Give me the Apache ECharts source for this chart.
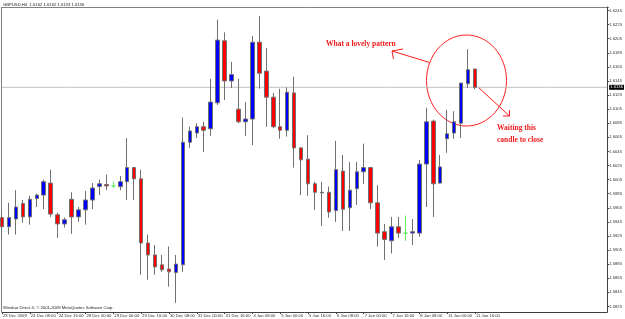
<!DOCTYPE html>
<html><head><meta charset="utf-8">
<script src="https://cdn.jsdelivr.net/npm/echarts@6/dist/echarts.min.js"></script>
<style>html,body{margin:0;padding:0;background:#fff}#c{width:625px;height:319px}</style>
</head><body><div id="c"></div>
<script>
const symbolName = 'GBPUSD,H4';
const footerText = 'Windsor Direct 4, \u00a9 2001-2009 MetaQuotes Software Corp.';
const timeLabels = ['23 Dec 2009','24 Dec 08:00','24 Dec 16:00','28 Dec 00:00','29 Dec 00:00','29 Dec 16:00','30 Dec 08:00','31 Dec 00:00','31 Dec 16:00','4 Jan 08:00','5 Jan 00:00','5 Jan 16:00','6 Jan 08:00','7 Jan 00:00','7 Jan 16:00','8 Jan 08:00','11 Jan 00:00','11 Jan 16:00'];
const open  = [1.5951,1.5938,1.5949,1.5971,1.5952,1.5978,1.5983,1.6000,1.5955,1.5942,
               1.5977,1.5952,1.5962,1.5976,1.5995,1.5998,1.5996,1.5995,1.6002,1.6022,
               1.6006,1.5915,1.5898,1.5884,1.5878,1.5873,1.5884,1.6058,1.6071,1.6080,
               1.6077,1.6114,1.6202,1.6145,1.6105,1.6087,1.6091,1.6200,1.6159,1.6122,
               1.6080,1.6075,1.6128,1.6050,1.6034,1.5999,1.5987,1.5987,1.5961,1.6017,
               1.5965,1.5992,1.6016,1.6022,1.5972,1.5931,1.5918,1.5938,1.5929,1.5929,
               1.5929,1.6027,1.6088,1.6000,1.6063,1.6071,1.6085,1.6141,1.6162];
const high  = [1.5962,1.5972,1.5990,1.5976,1.5982,1.5985,1.6005,1.6019,1.5958,1.5951,
               1.5987,1.5966,1.5989,1.6000,1.6005,1.6012,1.6002,1.6010,1.6064,1.6023,
               1.6019,1.5927,1.5912,1.5898,1.5910,1.5898,1.6093,1.6080,1.6085,1.6087,
               1.6148,1.6232,1.6214,1.6172,1.6148,1.6115,1.6209,1.6237,1.6192,1.6128,
               1.6134,1.6136,1.6151,1.6051,1.6068,1.6002,1.6002,1.5995,1.6060,1.6040,
               1.6030,1.6030,1.6056,1.6023,1.5997,1.5942,1.5952,1.5952,1.5954,1.5949,
               1.6033,1.6107,1.6090,1.6040,1.6104,1.6102,1.6142,1.6190,1.6162];
const low   = [1.5920,1.5927,1.5927,1.5944,1.5941,1.5966,1.5963,1.5952,1.5922,1.5937,
               1.5928,1.5945,1.5941,1.5963,1.5983,1.5990,1.5993,1.5990,1.5976,1.5976,
               1.5870,1.5863,1.5870,1.5874,1.5853,1.5830,1.5874,1.6050,1.6064,1.6044,
               1.6067,1.6111,1.6118,1.6135,1.6085,1.6067,1.6054,1.6134,1.6080,1.6078,
               1.6063,1.6066,1.6022,1.5983,1.5982,1.5962,1.5939,1.5951,1.5945,1.5932,
               1.5932,1.5969,1.5999,1.5963,1.5910,1.5891,1.5900,1.5922,1.5918,1.5912,
               1.5924,1.5966,1.5952,1.5999,1.6043,1.6063,1.6064,1.6135,1.6133];
const close = [1.5938,1.5951,1.5966,1.5952,1.5977,1.5983,1.6002,1.5956,1.5942,1.5948,
               1.5952,1.5962,1.5976,1.5993,1.5999,1.5996,1.5996,1.6002,1.6022,1.6006,
               1.5915,1.5898,1.5881,1.5877,1.5874,1.5885,1.6058,1.6074,1.6080,1.6075,
               1.6115,1.6203,1.6145,1.6154,1.6087,1.6091,1.6200,1.6156,1.6122,1.6080,
               1.6075,1.6129,1.6050,1.6033,1.5999,1.5987,1.5986,1.5959,1.6019,1.5963,
               1.5990,1.6016,1.6022,1.5972,1.5929,1.5920,1.5938,1.5929,1.5929,1.5931,
               1.6027,1.6087,1.5999,1.6023,1.6070,1.6087,1.6142,1.6161,1.6136];
const priceTicks = [1.5825,1.5845,1.5865,1.5885,1.5905,1.5925,1.5945,1.5965,1.5985,1.6005,1.6025,
                    1.6045,1.6065,1.6085,1.6105,1.6125,1.6145,1.6165,1.6185,1.6205,1.6225,1.6245];
const emptyBars = 19;

const FONT = '"Liberation Sans", Arial, sans-serif';
const SERIF = '"Liberation Serif", "Times New Roman", serif';
const nBars = open.length;
const categories = [];
for (let i = 0; i < nBars + emptyBars; i++) categories.push(String(i));
const labelAt = (idx) => (idx % 4 === 0 && idx / 4 < timeLabels.length) ? timeLabels[idx / 4] : '';
const candles = open.map((o, i) => [o, close[i], low[i], high[i]]);
const last = nBars - 1;
const bidLine = categories.map(() => close[last]);
const header = symbolName + '  ' + open[last].toFixed(4) + ' ' + high[last].toFixed(4) + ' ' + low[last].toFixed(4) + ' ' + close[last].toFixed(4);

const chart = echarts.init(document.getElementById('c'), null, {renderer: 'canvas'});
chart.setOption({
  animation: false,
  backgroundColor: '#ffffff',
  grid: {left: 2, right: 16, top: 7, bottom: 7, containLabel: false},
  xAxis: {
    type: 'category', data: categories, boundaryGap: false,
    axisLine: {show: true, lineStyle: {color: '#404040', width: 1}},
    axisTick: {show: true, length: 2, interval: (idx) => labelAt(idx) !== '', lineStyle: {color: '#404040'}},
    axisLabel: {interval: (idx) => labelAt(idx) !== '', formatter: (v, idx) => labelAt(idx), align: 'left',
      fontSize: 4.2, fontFamily: FONT, color: '#333', margin: 1.5, padding: [0, 0, 0, 1]},
    splitLine: {show: false}
  },
  yAxis: {
    type: 'value', position: 'right', min: 1.5817, max: 1.6250, scale: true,
    splitLine: {show: false},
    axisLine: {show: true, lineStyle: {color: '#404040', width: 1}},
    axisTick: {show: true, length: 2, customValues: priceTicks, lineStyle: {color: '#404040'}},
    axisLabel: {customValues: priceTicks, formatter: (v) => v.toFixed(4), fontSize: 4.2, fontFamily: FONT, color: '#333', margin: 2}
  },
  series: [{
    type: 'line', data: bidLine, symbol: 'none', silent: true, z: 1,
    lineStyle: {color: '#c0c0c0', width: 1},
    endLabel: {show: true, formatter: (p) => Number(p.value).toFixed(4), backgroundColor: '#000', color: '#fff',
      fontSize: 4.2, fontFamily: FONT, padding: [1, 1, 0, 1], distance: 2}
  }, {
    type: 'candlestick', data: candles, barWidth: 4, clip: false, z: 3,
    itemStyle: {color: '#0000ff', color0: '#ff0000', borderColor: '#707070', borderColor0: '#707070', borderColorDoji: '#66ee66', borderWidth: 1}
  }],
  graphic: [
    {type: 'line', shape: {x1: 1.5, y1: 7, x2: 1.5, y2: 312}, style: {stroke: '#808080', lineWidth: 1}, silent: true},
    {type: 'line', shape: {x1: 1.5, y1: 7.5, x2: 609, y2: 7.5}, style: {stroke: '#808080', lineWidth: 1}, silent: true},
    {type: 'text', x: 3, y: 4.5, style: {text: header, fontSize: 4.2, fontFamily: FONT, fill: '#222', verticalAlign: 'middle'}, silent: true},
    {type: 'text', x: 3, y: 307.5, style: {text: footerText, fontSize: 4.2, fontFamily: FONT, fill: '#222', verticalAlign: 'middle'}, silent: true},
    {type: 'ellipse', shape: {cx: 466.5, cy: 80.5, rx: 40, ry: 45.5}, style: {stroke: '#ff2020', fill: null, lineWidth: 1}, silent: true},
    {type: 'line', shape: {x1: 429.5, y1: 62.5, x2: 392, y2: 51}, style: {stroke: '#ff2020', lineWidth: 1}, silent: true},
    {type: 'polyline', shape: {points: [[403, 49], [392, 51], [393.5, 59]]}, style: {stroke: '#ff2020', lineWidth: 1, fill: null}, silent: true},
    {type: 'line', shape: {x1: 478, y1: 87, x2: 509.5, y2: 116}, style: {stroke: '#ff2020', lineWidth: 1}, silent: true},
    {type: 'polyline', shape: {points: [[509.5, 110], [509.5, 116], [503, 116]]}, style: {stroke: '#ff2020', lineWidth: 1, fill: null}, silent: true},
    {type: 'text', x: 326, y: 44, style: {text: 'What a lovely pattern', fontSize: 7.5, fontWeight: 'bold', fontFamily: SERIF, fill: '#ee1c1c', verticalAlign: 'middle'}, silent: true},
    {type: 'text', x: 497, y: 128, style: {text: 'Waiting this', fontSize: 7.5, fontWeight: 'bold', fontFamily: SERIF, fill: '#ee1c1c', verticalAlign: 'middle'}, silent: true},
    {type: 'text', x: 497, y: 140, style: {text: 'candle to close', fontSize: 7.5, fontWeight: 'bold', fontFamily: SERIF, fill: '#ee1c1c', verticalAlign: 'middle'}, silent: true}
  ]
});
</script>
</body></html>
